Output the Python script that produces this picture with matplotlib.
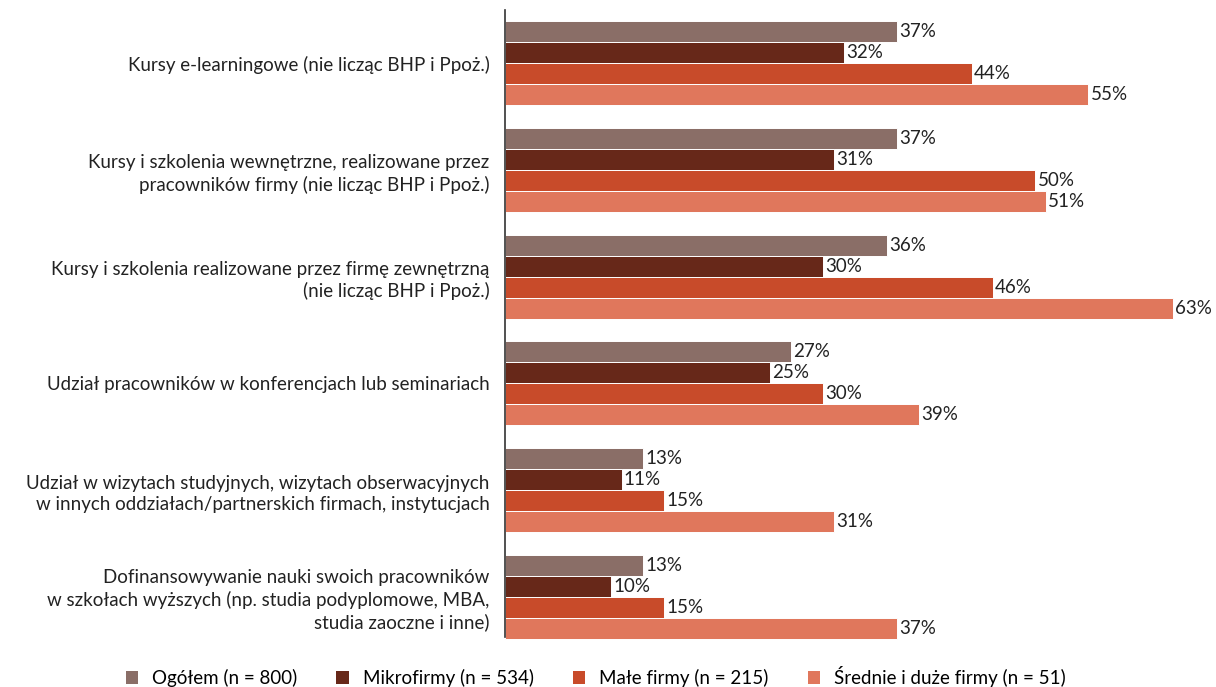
import numpy as np
import matplotlib.pyplot as plt
from matplotlib.patches import Patch

plt.rcParams["font.family"] = ["Lato", "DejaVu Sans"]

# ── Data ───────────────────────────────────────────────────────────────────
categories = [
    "Kursy e-learningowe (nie licząc BHP i Ppoż.)",
    "Kursy i szkolenia wewnętrzne, realizowane przez\npracowników firmy (nie licząc BHP i Ppoż.)",
    "Kursy i szkolenia realizowane przez firmę zewnętrzną\n(nie licząc BHP i Ppoż.)",
    "Udział pracowników w konferencjach lub seminariach",
    "Udział w wizytach studyjnych, wizytach obserwacyjnych\nw innych oddziałach/partnerskich firmach, instytucjach",
    "Dofinansowywanie nauki swoich pracowników\nw szkołach wyższych (np. studia podyplomowe, MBA,\nstudia zaoczne i inne)",
]
series_names = [
    "Ogółem (n = 800)",
    "Mikrofirmy (n = 534)",
    "Małe firmy (n = 215)",
    "Średnie i duże firmy (n = 51)",
]
ogolem  = [37, 37, 36, 27, 13, 13]
mikro   = [32, 31, 30, 25, 11, 10]
male    = [44, 50, 46, 30, 15, 15]
srednie = [55, 51, 63, 39, 31, 37]
series = [ogolem, mikro, male, srednie]
colors = ["#8A6E67", "#672819", "#C84B2A", "#E0775C"]

# ── Plot ───────────────────────────────────────────────────────────────────
fig = plt.figure(figsize=(12.16, 6.87), dpi=100)
ax = fig.add_axes([505 / 1216, 1 - 650 / 687, (1205 - 505) / 1216, 640 / 687])

y = np.arange(len(categories))
h = 0.197
for i, (vals, col) in enumerate(zip(series, colors)):
    pos = y + (i - 1.5) * h
    ax.barh(pos, vals, height=h, color=col, edgecolor="white", linewidth=0.7)
    for p, v in zip(pos, vals):
        ax.text(v + 0.2, p, f"{v}%", va="center", ha="left", fontsize=13.5, color="#222222")

ax.set_xlim(0, 66)
ax.set_ylim(5.5, -0.5)
ax.set_yticks(y)
ax.set_yticklabels(categories, fontsize=13.5, linespacing=1.3, color="#222222")
ax.tick_params(axis="y", length=0, pad=11)
ax.set_xticks([])
for s in ["top", "right", "bottom"]:
    ax.spines[s].set_visible(False)
ax.spines["left"].set_color("#333333")
ax.spines["left"].set_linewidth(1.2)
ax.spines["left"].set_bounds(-0.5, 5.38)

handles = [Patch(facecolor=c, edgecolor="none") for c in colors]
fig.legend(handles, series_names, loc="lower center", bbox_to_anchor=(0.49, -0.025),
           ncol=4, frameon=False, fontsize=13.5, handlelength=0.65, handleheight=0.65,
           handletextpad=0.75, columnspacing=2.1)

fig.savefig("out.png", dpi=100)
